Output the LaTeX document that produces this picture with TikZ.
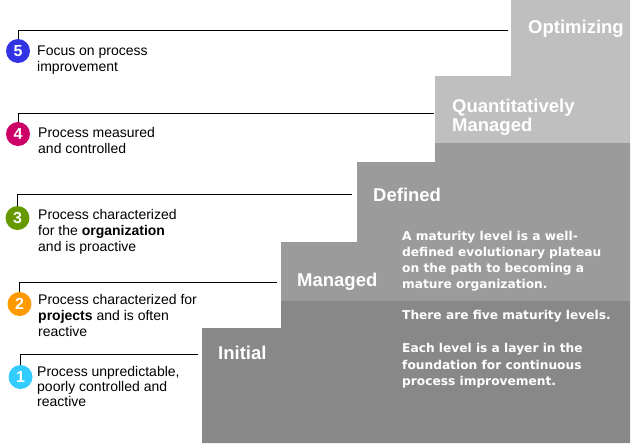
\documentclass[tikz,border=0pt]{standalone}
\usepackage{fontspec}
\setmainfont{Liberation Sans}
\newfontfamily\infofont{DejaVu Sans}
\definecolor{lightstep}{HTML}{BFBFBF}
\definecolor{midstep}{HTML}{9B9B9B}
\definecolor{darkstep}{HTML}{888888}
\definecolor{cfive}{HTML}{3333E6}
\definecolor{cfour}{HTML}{CC0066}
\definecolor{cthree}{HTML}{669900}
\definecolor{ctwo}{HTML}{FF9900}
\definecolor{cone}{HTML}{33CCFF}
\tikzset{
  lvltext/.style={anchor=base west, inner sep=0pt, align=left, font=\fontsize{14}{16}\selectfont},
  steplabel/.style={anchor=base west, inner sep=0pt, align=left, text=white, font=\fontsize{18.5}{18.5}\selectfont\bfseries},
  info/.style={anchor=base west, inner sep=0pt, align=left, text=white, font=\infofont\fontsize{12.2}{16.3}\selectfont\bfseries},
  badge/.style={circle, minimum size=24pt, inner sep=0pt, text=white, font=\fontsize{16}{16}\selectfont\bfseries},
  link/.style={draw=black, line width=0.9pt}
}
\begin{document}
\begin{tikzpicture}[x=1pt,y=-1pt]
\useasboundingbox (0,0) rectangle (634,445);
% steps
\fill[lightstep] (511,0) -- (630,0) -- (630,143) -- (435,143) -- (435,76) -- (511,76) -- cycle;
\fill[midstep] (357,162) -- (435,162) -- (435,143) -- (630,143) -- (630,301) -- (281,301) -- (281,242) -- (357,242) -- cycle;
\fill[darkstep] (202,328) -- (281,328) -- (281,301) -- (630,301) -- (630,443) -- (202,443) -- cycle;
% step labels (base anchor = baseline of last line)
\node[steplabel] (opt) at (528,33.3) {Optimizing};
\node[steplabel] (qm) at (452,131) {Quantitatively\\Managed};
\node[steplabel] (def) at (373,201.5) {Defined};
\node[steplabel] (man) at (297,286.5) {Managed};
\node[steplabel] (ini) at (218,359.5) {Initial};
% info text
\node[info] (i1) at (402,288.9) {A maturity level is a well-\\defined evolutionary plateau\\on the path to becoming a\\mature organization.};
\node[info] (i2) at (402,319) {There are five maturity levels.};
\node[info] (i3) at (402,385.3) {Each level is a layer in the\\foundation for continuous\\process improvement.};
% badges
\node[badge, fill=cfive] (b5) at (18,51) {5};
\node[badge, fill=cfour] (b4) at (18,134) {4};
\node[badge, fill=cthree] (b3) at (17.5,218) {3};
\node[badge, fill=ctwo] (b2) at (19.5,304) {2};
\node[badge, fill=cone] (b1) at (20.5,377) {1};
% level descriptions
\node[lvltext] (t5) at (37,71.5) {Focus on process\\improvement};
\node[lvltext] (t4) at (38,153.8) {Process measured\\and controlled};
\node[lvltext] (t3) at (38,251.7) {Process characterized\\for the \textbf{organization}\\and is proactive};
\node[lvltext] (t2) at (38,336.8) {Process characterized for\\\textbf{projects} and is often\\reactive};
\node[lvltext,font=\fontsize{14}{15}\selectfont] (t1) at (37,406.7) {Process unpredictable,\\poorly controlled and\\reactive};
% connector ends
\coordinate (e5) at (508,30);
\coordinate (e4) at (434,113);
\coordinate (e3) at (352,194);
\coordinate (e2) at (277,282);
\coordinate (e1) at (198,354);
\draw[link] (b5.north) |- (e5);
\draw[link] (b4.north) |- (e4);
\draw[link] (b3.north) |- (e3);
\draw[link] (b2.north) |- (e2);
\draw[link] (b1.north) |- (e1);
\end{tikzpicture}
\end{document}
